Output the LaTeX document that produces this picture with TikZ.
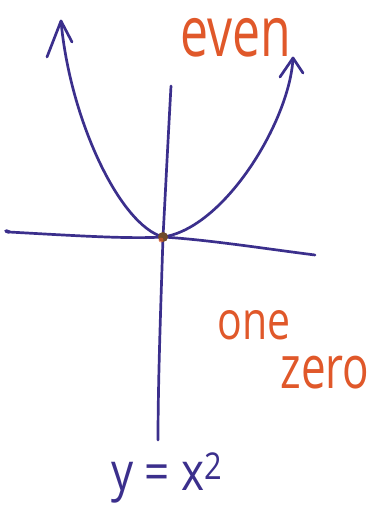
\documentclass[tikz,border=0pt]{standalone}
\usepackage{fontspec}
\setmainfont{Open Sans}
\definecolor{ink}{HTML}{3B2F8C}
\definecolor{marker}{HTML}{E0582A}
\definecolor{dotc}{HTML}{6E4A2C}
\begin{document}
\begin{tikzpicture}[x=1pt,y=-1pt,
  pen/.style={draw=ink,line width=2.7pt,line cap=round,line join=round},
  redtext/.style={text=marker,inner sep=0pt},
  bluetext/.style={text=ink,inner sep=0pt}]
\useasboundingbox (0,0) rectangle (382,529);
% key points
\coordinate (O) at (163,237);
\coordinate (xl) at (9,232);
\coordinate (xr) at (315,255);
\coordinate (yt) at (171,86);
\coordinate (yb) at (158,440);
\coordinate (lt) at (61,21);
\coordinate (rt) at (293,58);
% axes
\draw[pen] (xl) .. controls (80,236) and (130,239) .. (O) .. controls (210,240) and (260,248) .. (xr);
\draw[pen,line width=3.5pt] (xl) -- ++(-3,-1);
\draw[pen] (yt) .. controls (168,140) and (165,200) .. (O) .. controls (161,300) and (158,380) .. (yb);
% parabola
\draw[pen] (O) .. controls (120,225) and (70,120) .. (lt);
\draw[pen] (O) .. controls (225,228) and (290,120) .. (rt);
% arrow heads
\draw[pen] (47,57) -- (lt) -- (72,42);
\draw[pen] (280,77) -- (rt) -- (303,73);
% dot at origin
\fill[dotc] (O) circle (5pt);
\fill[marker,opacity=0.6] (161,240) circle (2.5pt);
% labels
\node[redtext,font=\fontsize{50}{50}\selectfont,yscale=1.4] (even) at (236,38) {even};
\node[redtext,font=\fontsize{41}{41}\selectfont,yscale=1.3] (one) at (254,325) {one};
\node[redtext,font=\fontsize{44}{44}\selectfont,yscale=1.35] (zero) at (325,373) {zero};
\node[bluetext,font=\fontsize{44}{44}\selectfont,yscale=1.2] (eq) at (167,478) {y = x\textsuperscript{2}};
\end{tikzpicture}
\end{document}
